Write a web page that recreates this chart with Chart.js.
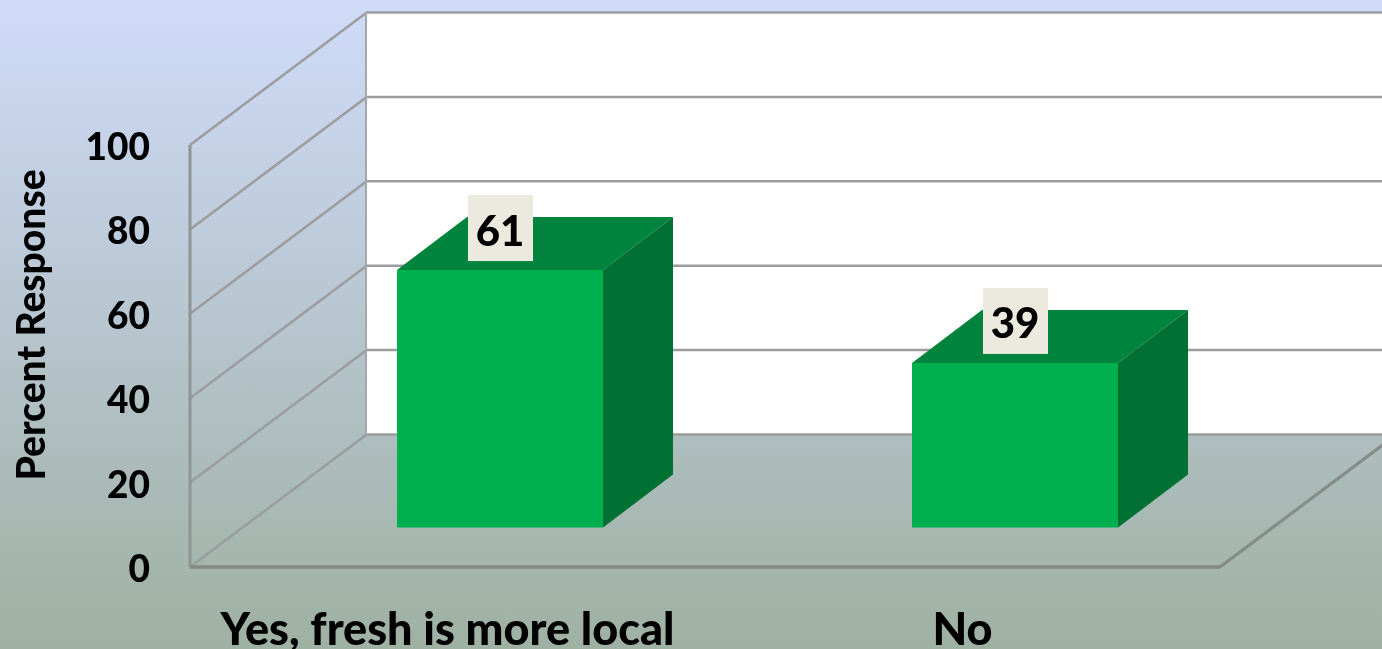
<!DOCTYPE html>
<html>
<head>
<meta charset="utf-8">
<style>
html, body { margin: 0; padding: 0; width: 1382px; height: 649px; overflow: hidden; }
body { background: linear-gradient(180deg, #cedaf6 0%, #cedaf6 3%, #bccad8 40%, #aebdbd 68%, #9eb1a2 100%); }
canvas { display: block; }
</style>
</head>
<body>
<canvas id="graficoFresh" width="1382" height="649"></canvas>
<script src="https://cdn.jsdelivr.net/npm/chart.js@4"></script>
<script>
var categories = ['Yes, fresh is more local', 'No'];
var responses = [61, 39];
var axisTitle = 'Percent Response';

// profundidade da "caixa" 3D
var depthX = 176, depthY = 132;
var barFrontX = 52.5, barFrontY = 39.5;
var barSideX = 70, barSideY = 53;

var font = 'Lato';
var lineColor = '#9a9c9e';

function line(ctx, x1, y1, x2, y2, color, width) {
    ctx.strokeStyle = color;
    ctx.lineWidth = width;
    ctx.beginPath();
    ctx.moveTo(x1, y1);
    ctx.lineTo(x2, y2);
    ctx.stroke();
}

function poly(ctx, pts, color) {
    ctx.fillStyle = color;
    ctx.beginPath();
    ctx.moveTo(pts[0][0], pts[0][1]);
    for (var i = 1; i < pts.length; i++) ctx.lineTo(pts[i][0], pts[i][1]);
    ctx.closePath();
    ctx.fill();
}

var box3d = {
    id: 'box3d',
    beforeDatasetsDraw: function (chart) {
        var ctx = chart.ctx, a = chart.chartArea, y = chart.scales.y;
        var backL = a.left + depthX;
        var y0 = y.getPixelForValue(0);

        // parede do fundo
        ctx.fillStyle = '#ffffff';
        ctx.fillRect(backL, a.top - depthY, chart.width - backL, a.bottom - a.top);

        // linhas de grade
        y.ticks.forEach(function (t) {
            var py = y.getPixelForValue(t.value);
            line(ctx, a.left, py, backL, py - depthY, lineColor, 2.5);
            line(ctx, backL, py - depthY - 0.5, chart.width, py - depthY - 0.5, lineColor, 2.5);
        });
        line(ctx, backL, a.top - depthY, backL, y0 - depthY, '#a4a8ac', 2);
        line(ctx, a.left, a.top, a.left, y0, '#8f9494', 3);

        // chao
        line(ctx, a.right, y0, a.right + depthX, y0 - depthY, '#858c88', 3);
        line(ctx, a.left, y0, a.right, y0, '#838a85', 3.5);
    },
    beforeDatasetDraw: function (chart) {
        chart.ctx.save();
        chart.ctx.translate(barFrontX, -barFrontY);
    },
    afterDatasetDraw: function (chart, args) {
        var ctx = chart.ctx;
        args.meta.data.forEach(function (bar) {
            var l = bar.x - bar.width / 2, r = bar.x + bar.width / 2;
            poly(ctx, [[l, bar.y], [r, bar.y], [r + barSideX, bar.y - barSideY], [l + barSideX, bar.y - barSideY]], '#00843d');
            poly(ctx, [[r, bar.y], [r + barSideX, bar.y - barSideY], [r + barSideX, bar.base - barSideY], [r, bar.base]], '#017033');
        });
        ctx.restore();
    },
    afterDatasetsDraw: function (chart) {
        var ctx = chart.ctx;
        chart.getDatasetMeta(0).data.forEach(function (bar, i) {
            var cx = bar.x + barFrontX;
            var cy = bar.y - barFrontY - 42;
            ctx.fillStyle = '#ece9df';
            ctx.fillRect(cx - 32, cy - 33, 65, 66);
            ctx.fillStyle = '#000000';
            ctx.font = '900 42px ' + font;
            ctx.textAlign = 'center';
            ctx.textBaseline = 'middle';
            ctx.fillText(responses[i], cx, cy + 4);
        });
    },
    afterDraw: function (chart) {
        // titulo do eixo, centrado fora do meio da area do grafico
        var ctx = chart.ctx;
        ctx.save();
        ctx.translate(32, 325);
        ctx.rotate(-Math.PI / 2);
        ctx.fillStyle = '#000000';
        ctx.font = '900 39px ' + font;
        ctx.textAlign = 'center';
        ctx.textBaseline = 'middle';
        ctx.fillText(axisTitle, 0, 0);
        ctx.restore();
    }
};

var freshChart = new Chart(document.getElementById('graficoFresh').getContext('2d'), {
    type: 'bar',
    data: {
        labels: categories,
        datasets: [{
            data: responses,
            backgroundColor: '#00b04f',
            borderWidth: 0,
            barPercentage: 0.4,
            categoryPercentage: 1,
            clip: false
        }]
    },
    options: {
        responsive: false,
        animation: false,
        layout: { padding: { top: 145, right: 162, left: 0, bottom: 0 } },
        plugins: { legend: { display: false }, tooltip: { enabled: false } },
        scales: {
            x: {
                grid: { display: false, drawTicks: false },
                border: { display: false },
                ticks: {
                    color: '#000000',
                    font: { family: font, weight: '900', size: 45 },
                    padding: 36,
                    maxRotation: 0
                },
                afterFit: function (s) { s.height = 82; }
            },
            y: {
                min: 0,
                max: 100,
                grid: { display: false, drawTicks: false },
                border: { display: false },
                ticks: {
                    stepSize: 20,
                    color: '#000000',
                    font: { family: font, weight: '900', size: 37 },
                    padding: 40,
                    labelOffset: 3
                },
                afterFit: function (s) { s.width = 190; }
            }
        }
    },
    plugins: [box3d]
});
</script>
</body>
</html>
